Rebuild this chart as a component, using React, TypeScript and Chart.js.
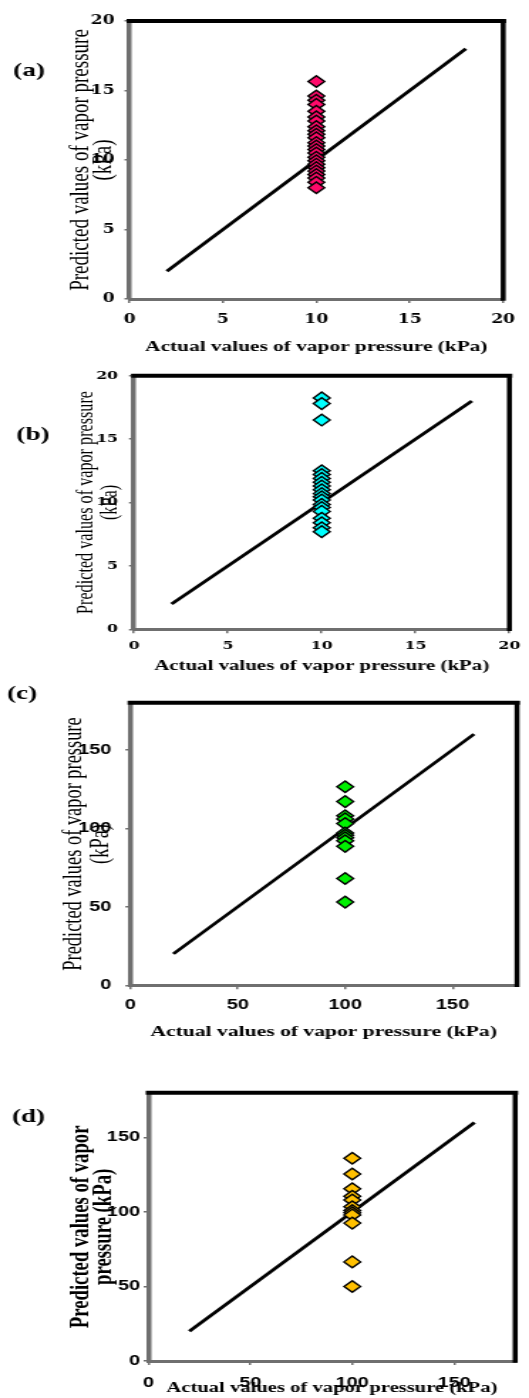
import React, { useEffect, useRef } from "react";
import { Chart, registerables } from "chart.js";

Chart.register(...registerables);

// ---------------- data ----------------
const panelLabels = ["(a)", "(b)", "(c)", "(d)"];
const xAxisTitle = "Actual values of vapor pressure (kPa)";
const yAxisTitleABC = ["Predicted values of vapor pressure", "(kPa)"];
const yAxisTitleD = ["Predicted values of vapor", "pressure (kPa)"];

const ticksSmall = [0, 5, 10, 15, 20];
const ticksLarge = [0, 50, 100, 150];
const axisMaxSmall = 20;
const axisMaxLarge = 180;

const refLineSmall = [2, 18];
const refLineLarge = [20, 160];

const actualA = 10;
const actualB = 10;
const actualC = 100;
const actualD = 100;

const predictedA = [15.65, 14.6, 14.3, 14.0, 13.5, 13.1, 12.8, 12.4, 12.1, 11.85, 11.6, 11.25, 11.0, 10.75, 10.5, 10.2, 9.95, 9.7, 9.45, 9.2, 8.95, 8.7, 8.4, 8.0];
const predictedB = [18.25, 17.8, 16.5, 12.5, 12.2, 11.9, 11.6, 11.3, 11.0, 10.7, 10.45, 10.2, 9.85, 9.6, 9.3, 8.75, 8.4, 8.0, 7.7];
const predictedC = [126.5, 117, 108, 106, 103, 97, 95.5, 94, 92, 88.5, 68, 53];
const predictedD = [136, 125.5, 115.5, 110.5, 108, 103.5, 101, 99.5, 98, 92.5, 66.5, 50];

// ---------------- layout / style ----------------
const PAGE_W = 529;
const IW = 372; // internal canvas width (stretched horizontally to PAGE_W)
const SX = PAGE_W / IW;

type Panel = {
  label: string;
  top: number;
  height: number;
  L: number; T: number; R: number; B: number;
  max: number;
  ticks: number[];
  actual: number;
  predicted: number[];
  line: number[];
  color: string;
  tickFamily: string;
  tickSize: number;
  yTickRight: number;
  xTickCenter: number;
  xTitleCenter: number;
  xTitleSize: number;
  yTitle: string[];
  yTitleX1: number;
  yTitleX2: number;
  yTitleSize: number;
  yTitleWeight: string;
  labelX: number;
  labelY: number;
};

const panels: Panel[] = [
  {
    label: panelLabels[0], top: 0, height: 358,
    L: 129.5, T: 21, R: 516, B: 299,
    max: axisMaxSmall, ticks: ticksSmall, actual: actualA, predicted: predictedA, line: refLineSmall,
    color: "#FF0A6A", tickFamily: "'DejaVu Serif'", tickSize: 12,
    yTickRight: 114.5, xTickCenter: 320, xTitleCenter: 347, xTitleSize: 15,
    yTitle: yAxisTitleABC, yTitleX1: 81, yTitleX2: 104.5, yTitleSize: 19, yTitleWeight: "normal",
    labelX: 29, labelY: 71,
  },
  {
    label: panelLabels[1], top: 358, height: 318,
    L: 134, T: 375.7, R: 513, B: 629.3,
    max: axisMaxSmall, ticks: ticksSmall, actual: actualB, predicted: predictedB, line: refLineSmall,
    color: "#00FFFF", tickFamily: "'DejaVu Serif'", tickSize: 11,
    yTickRight: 118, xTickCenter: 646, xTitleCenter: 666, xTitleSize: 14.7,
    yTitle: yAxisTitleABC, yTitleX1: 86, yTitleX2: 111, yTitleSize: 16.2, yTitleWeight: "normal",
    labelX: 33, labelY: 435,
  },
  {
    label: panelLabels[2], top: 676, height: 369,
    L: 130.4, T: 702.7, R: 517, B: 985.3,
    max: axisMaxLarge, ticks: ticksLarge, actual: actualC, predicted: predictedC, line: refLineLarge,
    color: "#00F000", tickFamily: "'Liberation Sans'", tickSize: 14,
    yTickRight: 111.5, xTickCenter: 1005, xTitleCenter: 1032, xTitleSize: 15.2,
    yTitle: yAxisTitleABC, yTitleX1: 73.6, yTitleX2: 100.7, yTitleSize: 18.4, yTitleWeight: "normal",
    labelX: 22, labelY: 694,
  },
  {
    label: panelLabels[3], top: 1045, height: 353,
    L: 148.6, T: 1092.7, R: 515.2, B: 1361,
    max: axisMaxLarge, ticks: ticksLarge, actual: actualD, predicted: predictedD, line: refLineLarge,
    color: "#FFC000", tickFamily: "'Liberation Sans'", tickSize: 14,
    yTickRight: 140, xTickCenter: 1382.7, xTitleCenter: 1388, xTitleSize: 14.5,
    yTitle: yAxisTitleD, yTitleX1: 81, yTitleX2: 104.4, yTitleSize: 18.7, yTitleWeight: "bold",
    labelX: 28.5, labelY: 1117,
  },
];

const AXIS_GRAY = "#6f6f6f";

const framePlugin = {
  id: "frameTopRight",
  beforeDatasetsDraw(chart: any) {
    const { ctx, chartArea } = chart;
    const { left, top, right, bottom } = chartArea;
    ctx.save();
    ctx.strokeStyle = "#000";
    ctx.lineCap = "square";
    ctx.lineWidth = 4;
    ctx.beginPath();
    ctx.moveTo(left, top);
    ctx.lineTo(right, top);
    ctx.stroke();
    ctx.lineWidth = 5 / SX;
    ctx.beginPath();
    ctx.moveTo(right, top);
    ctx.lineTo(right, bottom);
    ctx.stroke();
    ctx.restore();
  },
};

function PanelChart({ p }: { p: Panel }) {
  const ref = useRef<HTMLCanvasElement | null>(null);

  useEffect(() => {
    const canvas = ref.current;
    if (!canvas) return;
    const Li = p.L / SX;
    const Ri = p.R / SX;
    const Ti = p.T - p.top;
    const Bi = p.B - p.top;
    const yTL = 5 / SX;
    const xTL = 4;
    const yPad = Li - yTL - p.yTickRight / SX;
    const tickLH = 1.2 * p.tickSize;
    const xPad = p.xTickCenter - p.B - xTL - tickLH / 2;
    const xtLH = 1.2 * p.xTitleSize;
    const xtPadBottom = p.top + p.height - p.xTitleCenter - xtLH / 2;
    const ytLH = (p.yTitleX2 - p.yTitleX1) / SX;
    const ytPadTop = p.yTitleX1 / SX - ytLH / 2;

    const labelPlugin = {
      id: "panelLabel",
      afterDraw(chart: any) {
        const ctx = chart.ctx;
        ctx.save();
        ctx.fillStyle = "#000";
        ctx.font = "bold 19px 'Liberation Serif'";
        ctx.textAlign = "center";
        ctx.textBaseline = "middle";
        ctx.fillText(p.label, p.labelX / SX, p.labelY - p.top);
        ctx.restore();
      },
    };

    const tickFont = { family: p.tickFamily, size: p.tickSize, weight: "bold" as const };

    const chart = new Chart(canvas, {
      type: "scatter",
      data: {
        datasets: [
          {
            label: "predicted",
            data: p.predicted.map((v) => ({ x: p.actual, y: v })),
            pointStyle: "rectRot",
            pointRadius: 5.8,
            pointHoverRadius: 5.8,
            backgroundColor: p.color,
            borderColor: "#000",
            pointBorderWidth: 1.4,
            borderWidth: 1.4,
            order: 0,
          },
          {
            label: "line",
            data: p.line.map((v) => ({ x: v, y: v })),
            showLine: true,
            pointRadius: 0,
            borderColor: "#000",
            borderWidth: 2.8,
            order: 1,
          },
        ],
      },
      options: {
        animation: false,
        responsive: false,
        maintainAspectRatio: false,
        devicePixelRatio: 1,
        events: [],
        layout: { padding: { left: 0, top: Ti, right: IW - Ri, bottom: 0 } },
        plugins: { legend: { display: false }, tooltip: { enabled: false }, title: { display: false } },
        scales: {
          x: {
            type: "linear",
            position: "bottom",
            min: 0,
            max: p.max,
            afterBuildTicks: (s: any) => {
              s.ticks = p.ticks.map((v) => ({ value: v }));
            },
            afterFit: (s: any) => {
              s.height = p.height - Bi;
            },
            grid: { display: true, drawOnChartArea: false, drawTicks: true, tickLength: xTL, color: AXIS_GRAY, lineWidth: 1.5 },
            border: { display: true, color: AXIS_GRAY, width: 3 },
            ticks: { color: "#000", font: tickFont, padding: xPad, maxRotation: 0, autoSkip: false },
            title: {
              display: true,
              text: xAxisTitle,
              color: "#000",
              font: { family: "'Liberation Serif'", size: p.xTitleSize, weight: "bold", lineHeight: 1.2 },
              padding: { top: 0, bottom: xtPadBottom },
            },
          },
          y: {
            type: "linear",
            position: "left",
            min: 0,
            max: p.max,
            afterBuildTicks: (s: any) => {
              s.ticks = p.ticks.map((v) => ({ value: v }));
            },
            afterFit: (s: any) => {
              s.width = Li;
            },
            grid: { display: true, drawOnChartArea: false, drawTicks: true, tickLength: yTL, color: AXIS_GRAY, lineWidth: 1.5 },
            border: { display: true, color: AXIS_GRAY, width: 3.5 },
            ticks: { color: "#000", font: tickFont, padding: yPad, autoSkip: false },
            title: {
              display: true,
              text: p.yTitle,
              color: "#000",
              font: { family: "'Liberation Serif'", size: p.yTitleSize, weight: p.yTitleWeight as any, lineHeight: ytLH / p.yTitleSize },
              padding: { top: ytPadTop, bottom: 0 },
            },
          },
        },
      },
      plugins: [framePlugin, labelPlugin],
    } as any);

    return () => chart.destroy();
  }, [p]);

  return (
    <canvas
      ref={ref}
      width={IW}
      height={p.height}
      style={{ position: "absolute", left: 0, top: p.top, width: PAGE_W + "px", height: p.height + "px" }}
    />
  );
}

export default function App() {
  return (
    <div style={{ position: "absolute", left: 0, top: 0, width: PAGE_W, height: 1398, background: "#fff", overflow: "hidden" }}>
      {panels.map((p) => (
        <PanelChart key={p.label} p={p} />
      ))}
    </div>
  );
}
